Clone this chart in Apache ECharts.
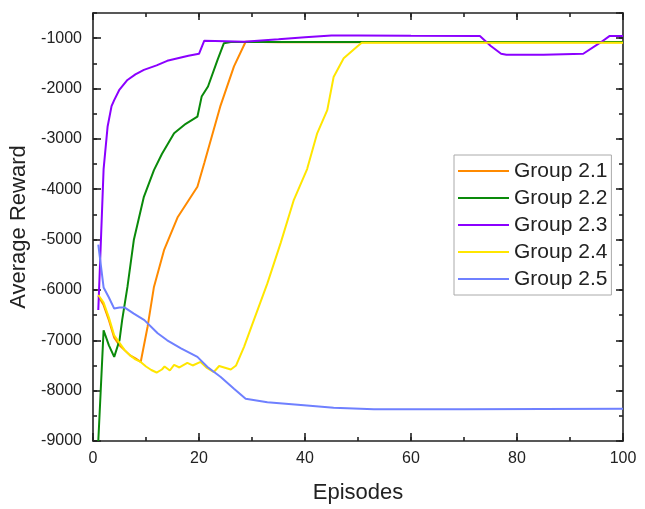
<!DOCTYPE html>
<html><head><meta charset="utf-8">
<script src="https://cdn.jsdelivr.net/npm/echarts@6/dist/echarts.min.js"></script>
<style>html,body{margin:0;padding:0;background:#fff}#c{width:645px;height:509px}</style>
</head><body><div id="c"></div>
<script>
const seriesNames = ['Group 2.1','Group 2.2','Group 2.3','Group 2.4','Group 2.5'];
const seriesColors = ['#FF8A00','#0A8A0A','#8B00FF','#FFE600','#6F80FF'];

const g21X = [1,2,3,4,5,6,7,8,9,10.3,11.5,13.4,16,19.7,21,24,26.6,28.8,35,50,100];
const g21Y = [-6120,-6300,-6600,-6950,-7100,-7200,-7300,-7360,-7430,-6730,-5940,-5210,-4550,-3950,-3480,-2360,-1560,-1070,-1080,-1080,-1080];

const g22X = [1,2,3,4,5,5.5,6.5,7.7,9.6,11.5,13,15.3,17.5,19.7,20.5,21.7,23.5,24.7,26,50,100];
const g22Y = [-9000,-6800,-7100,-7330,-7000,-6600,-5940,-5010,-4150,-3620,-3300,-2890,-2700,-2560,-2160,-1960,-1430,-1100,-1075,-1075,-1075];

const g23X = [1,2,2.75,3.5,4,5,6.5,8,9.6,12,14,16,18,20,21,25,28.5,35,40,45,50,60,73,75,77,78,85,92.5,95.7,97.5,100];
const g23Y = [-6400,-3600,-2760,-2350,-2230,-2020,-1830,-1720,-1630,-1540,-1450,-1400,-1350,-1310,-1050,-1060,-1070,-1020,-980,-945,-945,-950,-955,-1150,-1310,-1330,-1330,-1310,-1090,-955,-955];

const g24X = [1,2,3,4,5,6,7,8,9,10,11,12,13,13.5,14.5,15.3,16.3,17.8,18.8,20.3,21.5,22.8,23.8,26,27,28.5,30,32.9,35.4,37.9,40.4,42.3,44.2,45.4,47.3,49.8,50.7,100];
const g24Y = [-6100,-6250,-6550,-6900,-7050,-7200,-7300,-7380,-7430,-7520,-7590,-7640,-7580,-7520,-7600,-7490,-7540,-7450,-7500,-7430,-7550,-7630,-7510,-7580,-7500,-7130,-6700,-5870,-5070,-4210,-3600,-2890,-2430,-1770,-1400,-1170,-1090,-1090];

const g25X = [1,2,3,4,5,6,7.7,9.7,12.2,14,16.6,19.7,21.6,24.1,26.6,28.8,32.9,39.8,45.4,53,70,100];
const g25Y = [-5100,-5950,-6150,-6370,-6350,-6350,-6470,-6600,-6860,-7000,-7160,-7330,-7530,-7730,-7960,-8160,-8230,-8290,-8340,-8370,-8370,-8360];

const allX = [g21X,g22X,g23X,g24X,g25X];
const allY = [g21Y,g22Y,g23Y,g24Y,g25Y];

const xMin = 0, xMax = 100, xStep = 20, xMinorStep = 10;
const yMin = -9000, yMax = -500, yStep = 1000, yMinorStep = 500;

const axisColor = '#222';
const font = '"Liberation Sans", Arial, sans-serif';

const chart = echarts.init(document.getElementById('c'), null, {renderer:'canvas'});

function xAx(pos, step, tickLen, showLine, showLabel, extra) {
  return Object.assign({
    type:'value', position:pos, min:xMin, max:xMax, interval:step,
    axisLine:{show:showLine, onZero:false, lineStyle:{color:axisColor, width:1.6}},
    axisTick:{show:true, inside:true, length:tickLen, lineStyle:{color:axisColor, width:1.6}},
    axisLabel:{show:showLabel, color:'#222', fontSize:16, fontFamily:font, margin:10,
      formatter:(v)=>String(v)},
    splitLine:{show:false}
  }, extra||{});
}
function yAx(pos, step, tickLen, showLine, showLabel, extra) {
  return Object.assign({
    type:'value', position:pos, min:yMin, max:yMax, interval:step,
    axisLine:{show:showLine, onZero:false, lineStyle:{color:axisColor, width:1.6}},
    axisTick:{show:true, inside:true, length:tickLen, lineStyle:{color:axisColor, width:1.6}},
    axisLabel:{show:showLabel, color:'#222', fontSize:16, fontFamily:font, margin:11, showMaxLabel:false,
      formatter:(v)=>String(v)},
    splitLine:{show:false}
  }, extra||{});
}

const option = {
  backgroundColor:'#fff',
  animation:false,
  grid:{left:92, right:22, top:13, bottom:68, containLabel:false},
  legend:{
    orient:'vertical', left:454, top:155,
    padding:[5,4,5,4], itemGap:5, itemWidth:51, itemHeight:2, icon:'rect',
    borderColor:'#aaa', borderWidth:1, backgroundColor:'#fff',
    textStyle:{fontSize:21, fontFamily:font, color:'#222', lineHeight:22},
    data:seriesNames
  },
  xAxis:[
    xAx('bottom', xStep, 8, true, true, {name:'Episodes', nameLocation:'middle', nameGap:41,
      nameTextStyle:{fontSize:22, fontFamily:font, color:'#222'}}),
    xAx('top', xStep, 7, true, false),
    xAx('bottom', xMinorStep, 4, false, false),
    xAx('top', xMinorStep, 4, false, false)
  ],
  yAxis:[
    yAx('left', yStep, 8, true, true, {name:'Average Reward', nameLocation:'middle', nameGap:63, nameRotate:90,
      nameTextStyle:{fontSize:22, fontFamily:font, color:'#222'}}),
    yAx('right', yStep, 7, true, false),
    yAx('left', yMinorStep, 4, false, false),
    yAx('right', yMinorStep, 4, false, false)
  ],
  series: seriesNames.map((n,i)=>({
    name:n, type:'line', xAxisIndex:0, yAxisIndex:0,
    symbol:'none', clip:true,
    lineStyle:{color:seriesColors[i], width:2},
    itemStyle:{color:seriesColors[i]},
    data: allX[i].map((x,k)=>[x, allY[i][k]])
  }))
};
chart.setOption(option);
</script></body></html>
